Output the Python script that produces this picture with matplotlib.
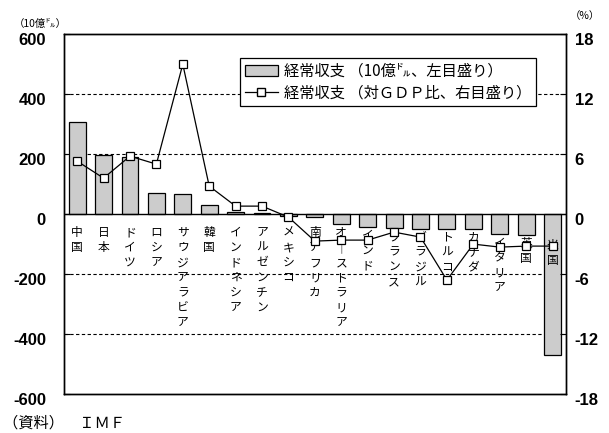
import matplotlib
matplotlib.use("Agg")
import matplotlib.pyplot as plt
import matplotlib.transforms as mtransforms
import numpy as np
from matplotlib.patches import Patch
from matplotlib.lines import Line2D

# 経常収支（10億ドル）と対GDP比（%）
countries = ["中国", "日本", "ドイツ", "ロシア", "サウジアラビア", "韓国", "インドネシア",
             "アルゼンチン", "メキシコ", "南アフリカ", "オーストラリア", "インド", "フランス",
             "ブラジル", "トルコ", "カナダ", "イタリア", "英国", "米国"]
balance_usd = [306, 197, 189, 70, 67, 30, 6, 4, -7, -11, -33, -43, -46,
               -48, -48, -48, -67, -70, -471]
balance_gdp = [5.3, 3.6, 5.8, 5.0, 15.0, 2.8, 0.8, 0.8, -0.3, -2.7, -2.6, -2.6, -1.8,
               -2.3, -6.6, -3.0, -3.3, -3.2, -3.2]

left_ticks = [600, 400, 200, 0, -200, -400, -600]
right_ticks = [18, 12, 6, 0, -6, -12, -18]

NUM_FONT = ["Liberation Sans", "DejaVu Sans"]
JP_FONT = ["Noto Sans CJK JP", "DejaVu Sans"]

fig = plt.figure(figsize=(6.09, 4.33), dpi=100)
ax = fig.add_axes([0.105, 0.090, 0.824, 0.831])
ax2 = ax.twinx()

x = np.arange(len(countries))
ax.bar(x, balance_usd, width=0.64, color="#cccccc", edgecolor="black", linewidth=0.9, zorder=3)

ax.set_xlim(-0.5, len(countries) - 0.5)
ax.set_ylim(-600, 600)
ax2.set_ylim(-18, 18)

# grid lines and zero line
for g in [400, 200, -200, -400]:
    ax.axhline(g, color="black", lw=0.8, ls=(0, (3, 2.2)), zorder=1)
ax.axhline(0, color="black", lw=1.0, zorder=4)

ax2.plot(x, balance_gdp, color="black", lw=0.9, marker="s", markersize=5.5,
         markerfacecolor="white", markeredgecolor="black", markeredgewidth=0.9, zorder=5)

ax.set_xticks([])
ax.set_yticks(left_ticks)
ax.set_yticklabels([str(t) for t in left_ticks], fontfamily=NUM_FONT, fontsize=12,
                   fontweight="bold")
ax2.set_yticks(right_ticks)
ax2.set_yticklabels([str(t) for t in right_ticks], fontfamily=NUM_FONT, fontsize=12,
                    fontweight="bold")
ax.tick_params(axis="y", direction="in", length=4, width=0.8, pad=13)
ax2.tick_params(axis="y", direction="in", length=4, width=0.8, pad=6.5)
for a in (ax, ax2):
    for s in a.spines.values():
        s.set_linewidth(1.0)

# tick labels sit slightly below their tick positions
shift = mtransforms.ScaledTranslation(0, -0.045, fig.dpi_scale_trans)
for lbl in ax.get_yticklabels() + ax2.get_yticklabels():
    lbl.set_transform(lbl.get_transform() + shift)

# vertical category labels
clipped = np.clip(balance_usd, -75, 0)
for xi, name, c in zip(x, countries, clipped):
    top = min(-40, c - 7)
    txt = "\n".join(ch if ch != "ー" else "｜" for ch in name)
    ax.text(xi, top, txt, ha="center", va="top", fontsize=8.5, family=JP_FONT,
            linespacing=1.2, zorder=6)

handles = [Patch(facecolor="#cccccc", edgecolor="black", linewidth=0.9),
           Line2D([0], [0], color="black", lw=0.9, marker="s", markersize=5.5,
                  markerfacecolor="white", markeredgecolor="black")]
labels = ["経常収支 （10億㌦、左目盛り）", "経常収支 （対ＧＤＰ比、右目盛り）"]
leg = ax2.legend(handles, labels, loc="upper left", bbox_to_anchor=(0.351, 0.933),
                 borderaxespad=0,
                 prop={"family": JP_FONT, "size": 11}, frameon=True, fancybox=False,
                 edgecolor="black", framealpha=1, borderpad=0.3, labelspacing=0.3,
                 handlelength=2.2, handletextpad=0.35)
leg.get_frame().set_linewidth(0.9)
leg.set_zorder(10)

fig.text(0.022, 0.945, "（10億㌦）", fontsize=7.5, family=JP_FONT, va="center", ha="left")
fig.text(0.985, 0.962, "（%）", fontsize=7.5, family=JP_FONT, va="center", ha="right")
fig.text(0.005, 0.024, "（資料）　ＩＭＦ", fontsize=11, family=JP_FONT, va="center", ha="left")

fig.savefig("out.png", dpi=100)
